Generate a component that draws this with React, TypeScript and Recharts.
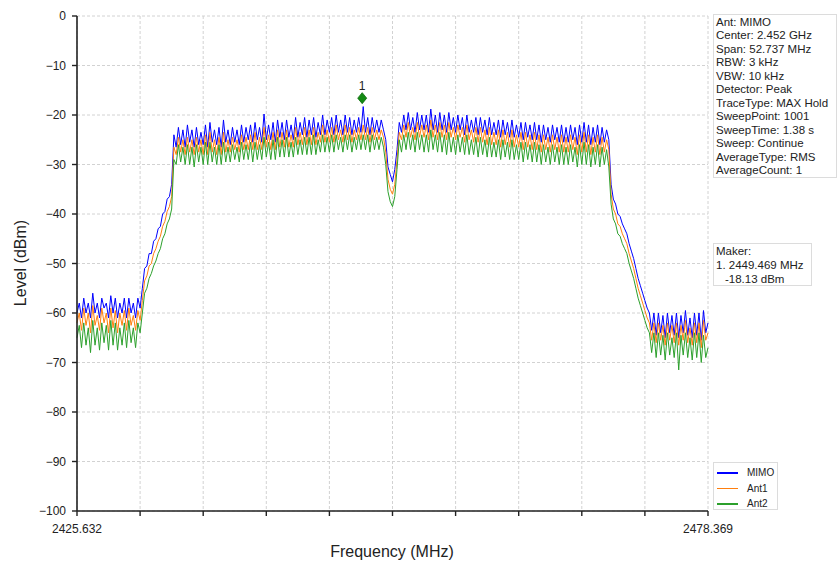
import { CartesianGrid, Legend, Line, LineChart, ReferenceDot, XAxis, YAxis } from "recharts"

const START_MHZ = 2425.632
const STOP_MHZ = 2478.369

const freqTicks = [
  2425.632, 2430.906, 2436.179, 2441.453, 2446.727, 2452.0, 2457.274, 2462.548, 2467.822, 2473.095,
  2478.369,
]
const levelTicks = [0, -10, -20, -30, -40, -50, -60, -70, -80, -90, -100]

// trace values (dBm), evenly spaced over the span
const mimo = [
  -60, -58, -61, -57, -60, -58, -61, -56, -60, -58,
  -61, -57, -59, -58, -61, -56.5, -60, -57, -61, -58,
  -60, -57, -61, -57, -60, -58, -61, -57, -59, -55,
  -51, -50.5, -48, -48, -45.5, -45, -43, -42.5, -40, -39.5,
  -37, -36.5, -34, -24, -26.5, -22.5, -26, -23, -26.5, -22,
  -25.5, -23, -26.5, -22.5, -26, -23.5, -26, -22, -26.5, -21.5,
  -25.5, -23, -26, -22.5, -26.5, -21, -25.5, -23, -26, -22.5,
  -25.5, -23, -26, -22, -25.5, -22.5, -25, -22, -25.5, -21.5,
  -25, -22.5, -25.5, -19.8, -25, -22, -25, -21.5, -25.5, -21,
  -24.5, -21.5, -25, -21, -24.5, -22, -25, -20.5, -24.5, -21.5,
  -24, -20.5, -24.5, -21, -24, -20.5, -24.5, -21.5, -24, -20,
  -24, -21, -23.5, -20.5, -24, -20, -23.5, -21, -24, -20,
  -23.5, -20.5, -24, -21, -23.5, -20.5, -23.5, -18.3, -23.5, -20.5,
  -24, -20.5, -23.5, -21, -23.5, -21, -23, -25, -30.5, -32,
  -33.5, -31, -27, -21.5, -23.5, -20, -23, -19.5, -23, -20.5,
  -23.5, -19.5, -23, -20, -23, -20, -23.5, -18.8, -23, -20,
  -23.5, -19.5, -23, -20, -23.5, -19.5, -23, -20.5, -23.5, -20,
  -23, -20.5, -24, -20, -23.5, -21, -23.5, -20.5, -24, -20.5,
  -23.5, -21, -24, -20.5, -24, -21.5, -24, -21, -24.5, -21,
  -24, -21.5, -24.5, -21, -24.5, -22, -24.5, -21.5, -25, -21.5,
  -24.5, -22, -25, -21.5, -25, -22, -25.5, -22, -25, -22.5,
  -25.5, -22, -25, -22.5, -25.5, -22, -25.5, -22.5, -25.5, -22,
  -25, -22.5, -26, -22, -25.5, -21.5, -25.5, -22, -26, -22.5,
  -25.5, -22, -26, -22.5, -25.5, -23, -25, -34, -37, -38,
  -40, -40.5, -42, -43, -44, -46, -47.5, -49, -51, -53,
  -54.5, -56, -57.5, -59, -60, -63.5, -60, -64.5, -60, -64,
  -60.5, -65, -60, -64, -60.5, -64.5, -60, -65, -60.5, -64,
  -59.5, -64.5, -61, -65, -60, -64.5, -60, -65.5, -59.5, -64,
  -62,
]

const ant1 = [
  -62, -60, -63.5, -59, -62.5, -60, -64, -58.5, -62.5, -60.5,
  -63.5, -59, -62, -60, -64, -59, -63, -59.5, -64, -60,
  -62.5, -59.5, -63.5, -59, -62.5, -60.5, -63.5, -59.5, -61.5, -57.5,
  -53.5, -52.5, -50.5, -50, -48, -47, -45.5, -44.5, -42.5, -41.5,
  -39.5, -38.5, -36.5, -26.5, -28, -24.5, -27.5, -25, -28, -24.5,
  -27.5, -25, -28, -24.5, -27.5, -25, -28, -24, -28, -23.5,
  -27.5, -25, -28, -24.5, -28, -23.5, -27.5, -25, -27.5, -24.5,
  -27, -25, -27.5, -24, -27, -24.5, -27, -24, -27, -23.5,
  -27, -24.5, -27, -22.5, -26.5, -24, -27, -23.5, -27, -23,
  -26.5, -23.5, -26.5, -23, -26.5, -24, -26.5, -22.5, -26, -23.5,
  -26, -22.5, -26, -23, -26, -22.5, -26, -23.5, -25.5, -22,
  -25.5, -23, -25.5, -22.5, -25.5, -22, -25, -23, -25.5, -22,
  -25, -22.5, -25.5, -23, -25, -22.5, -25, -22, -25, -22.5,
  -25.5, -22.5, -25, -23, -25, -23, -24.5, -27.5, -33, -35,
  -36, -34, -29, -23.5, -25, -22, -24.5, -21.5, -24.5, -22.5,
  -25, -21.5, -24.5, -22, -24.5, -22, -25, -21, -24.5, -22,
  -25, -21.5, -24.5, -22, -25, -21.5, -24.5, -22.5, -25, -22,
  -24.5, -22.5, -25.5, -22, -25, -23, -25.5, -22.5, -25.5, -22.5,
  -25.5, -23, -26, -22.5, -26, -23.5, -26, -23, -26.5, -23,
  -26, -23.5, -26.5, -23, -26.5, -24, -26.5, -23.5, -27, -23.5,
  -26.5, -24, -27, -23.5, -27, -24, -27.5, -24, -27, -24.5,
  -27.5, -24, -27, -24.5, -27.5, -24, -27.5, -24.5, -27.5, -24,
  -27, -24.5, -28, -24, -27.5, -23.5, -27.5, -24, -28, -24.5,
  -27.5, -24, -28, -24.5, -27.5, -25, -27, -36, -39, -40,
  -42, -42.5, -44, -45, -46, -48, -49.5, -51, -53, -55,
  -56.5, -58, -59.5, -61, -62, -65.5, -62, -66, -62, -65.5,
  -62.5, -66.5, -62, -65.5, -62.5, -66, -62, -66.5, -62.5, -65.5,
  -61.5, -66, -63, -66.5, -62, -66, -62, -67, -61.5, -65.5,
  -64,
]

const ant2 = [
  -65, -62.5, -67, -62, -66.5, -63, -68, -61.5, -66.5, -63,
  -67.5, -62, -66, -62.5, -67.5, -61.5, -66.5, -62, -67.5, -63,
  -66.5, -62, -67, -61.5, -66, -63, -67, -62, -64, -60,
  -56, -55, -53, -52, -50.5, -49.5, -48, -47, -45, -44,
  -42, -41, -39, -29, -30, -26, -29.5, -26.5, -30, -26,
  -30, -26.5, -30.5, -26, -29.5, -26.5, -30, -25.5, -30, -25.5,
  -29.5, -26.5, -30, -26, -30, -25.5, -29.5, -26.5, -29.5, -26,
  -29, -26.5, -29.5, -25.5, -29, -26, -29, -25.5, -29.5, -25.5,
  -29, -26, -29, -24.5, -28.5, -25.5, -29, -25, -29, -24.5,
  -28.5, -25, -28.5, -24.5, -28.5, -25.5, -28.5, -24.5, -28, -25,
  -28, -24.5, -28, -24.5, -28, -24, -28, -25, -27.5, -24,
  -27.5, -24.5, -27.5, -24, -27.5, -24, -27, -24.5, -27.5, -24,
  -27, -24, -27.5, -24.5, -27, -24, -27, -24, -27, -24,
  -27.5, -24, -27, -24.5, -27, -24.5, -26.5, -30, -35.5, -37.5,
  -38.5, -36.5, -31, -25, -27.5, -24, -27, -23.5, -27, -24,
  -27.5, -23.5, -27, -24, -27.5, -24, -27.5, -23, -27, -24,
  -27.5, -23.5, -27.5, -24, -28, -23.5, -27.5, -24.5, -28, -24,
  -27.5, -24.5, -28, -24, -28, -25, -28, -24.5, -28.5, -24.5,
  -28, -25, -28.5, -24.5, -28.5, -25.5, -28.5, -25, -29, -25,
  -28.5, -25.5, -29, -25, -29, -26, -29, -25.5, -29.5, -25.5,
  -29, -26, -29.5, -25.5, -29.5, -26, -30, -26, -29.5, -26.5,
  -30, -26, -29.5, -26.5, -30, -26, -30, -26.5, -30, -26,
  -29.5, -26.5, -30.5, -26, -30, -25.5, -30, -26, -30.5, -26.5,
  -30, -26, -30.5, -26.5, -30, -27, -30.5, -38, -41, -42,
  -44, -44.5, -46, -47, -48, -50, -51.5, -53, -55, -57,
  -58.5, -60, -61.5, -63, -64, -68, -64, -69, -64, -68.5,
  -64.5, -69.5, -64, -68.5, -65, -69, -64, -71.5, -64.5, -68.5,
  -64, -69, -65, -69.5, -64, -69, -64, -70, -64.5, -69,
  -67,
]

const infoLines = [
  "Ant: MIMO",
  "Center: 2.452 GHz",
  "Span: 52.737 MHz",
  "RBW: 3 kHz",
  "VBW: 10 kHz",
  "Detector: Peak",
  "TraceType: MAX Hold",
  "SweepPoint: 1001",
  "SweepTime: 1.38 s",
  "Sweep: Continue",
  "AverageType: RMS",
  "AverageCount: 1",
]

const markerFreq = 2449.469
const markerLevel = -16.6
const markerLines = ["Maker:", "1. 2449.469 MHz", "-18.13 dBm"]

const series = [
  { key: "mimo", name: "MIMO", color: "#0000ff" },
  { key: "ant1", name: "Ant1", color: "#ff7f0e" },
  { key: "ant2", name: "Ant2", color: "#2ca02c" },
]

const step = (STOP_MHZ - START_MHZ) / (mimo.length - 1)
const data = mimo.map((v, i) => ({
  f: START_MHZ + i * step,
  mimo: v,
  ant1: ant1[i],
  ant2: ant2[i],
}))

const FONT = "'Liberation Sans', Arial, sans-serif"
const minus = (v: number) => (v < 0 ? "\u2212" + Math.abs(v) : String(v))

const Diamond = (props: any) => {
  const { cx, cy } = props
  return (
    <path
      d={`M${cx},${cy - 5.5} L${cx + 4.5},${cy} L${cx},${cy + 5.5} L${cx - 4.5},${cy} Z`}
      fill="#138a13"
      stroke="#0d6b0d"
      strokeWidth={0.8}
    />
  )
}

function LegendBox() {
  return (
    <div
      style={{
        position: "relative",
        border: "1px solid #dcdcdc",
        boxSizing: "border-box",
        background: "#fff",
        width: 65,
        height: 48,
        fontFamily: FONT,
        fontSize: 10,
        color: "#222",
      }}
    >
      {series.map((s, i) => (
        <div key={s.key} style={{ position: "absolute", left: 0, top: 2 + i * 15.5, width: 63, height: 15 }}>
          <div style={{ position: "absolute", left: 3, top: 7, width: 21, height: 1.6, background: s.color }} />
          <div style={{ position: "absolute", left: 33, top: 1, lineHeight: "13px", whiteSpace: "nowrap" }}>{s.name}</div>
        </div>
      ))}
    </div>
  )
}

export default function App() {
  return (
    <div style={{ position: "absolute", left: 0, top: 0, width: 839, height: 562, background: "#fff", fontFamily: FONT }}>
      <LineChart width={839} height={562} data={data} margin={{ top: 16, right: 131, left: 17, bottom: 21 }}>
        <CartesianGrid stroke="#d2d2d2" strokeDasharray="3 2" />
        <XAxis
          dataKey="f"
          type="number"
          domain={[START_MHZ, STOP_MHZ]}
          ticks={freqTicks}
          interval={0}
          height={30}
          tickSize={5}
          tickMargin={8}
          tickFormatter={(v: number, i: number) => (i === 0 || i === freqTicks.length - 1 ? v.toFixed(3) : "")}
          tick={{ fill: "#222", fontSize: 12, fontFamily: FONT }}
          axisLine={{ stroke: "#222", strokeWidth: 1.6 }}
          tickLine={{ stroke: "#222", strokeWidth: 1.4 }}
        />
        <XAxis
          xAxisId="top"
          orientation="top"
          type="number"
          domain={[START_MHZ, STOP_MHZ]}
          height={0}
          tick={false}
          tickLine={false}
          axisLine={{ stroke: "#444", strokeWidth: 1.6 }}
        />
        <YAxis
          type="number"
          domain={[-100, 0]}
          ticks={levelTicks}
          interval={0}
          width={60}
          tickSize={5}
          tickMargin={6}
          tickFormatter={minus}
          tick={{ fill: "#222", fontSize: 12, fontFamily: FONT }}
          axisLine={{ stroke: "#222", strokeWidth: 1.6 }}
          tickLine={{ stroke: "#222", strokeWidth: 1.4 }}
        />
        <YAxis
          yAxisId="right"
          orientation="right"
          type="number"
          domain={[-100, 0]}
          width={0}
          tick={false}
          tickLine={false}
          axisLine={{ stroke: "#444", strokeWidth: 1.6 }}
        />
        {series.map((s) => (
          <Line
            key={s.key}
            type="linear"
            dataKey={s.key}
            name={s.name}
            stroke={s.color}
            strokeWidth={1}
            dot={false}
            activeDot={false}
            isAnimationActive={false}
          />
        ))}
        <ReferenceDot
          x={markerFreq}
          y={markerLevel}
          r={5}
          ifOverflow="visible"
          shape={Diamond}
          label={{ value: "1", position: "top", offset: 3, fill: "#222", fontSize: 12, fontFamily: FONT }}
        />
        <Legend
          layout="vertical"
          align="center"
          verticalAlign="middle"
          content={() => <LegendBox />}
          wrapperStyle={{ position: "absolute", left: 713, top: 462, width: 65, height: 48 }}
        />
        <text x={20} y={263} transform="rotate(-90 20 263)" textAnchor="middle" dominantBaseline="central" fontSize={16} fontFamily={FONT} fill="#222">
          Level (dBm)
        </text>
        <text x={392} y={551} textAnchor="middle" dominantBaseline="central" fontSize={16} fontFamily={FONT} fill="#222">
          Frequency (MHz)
        </text>
      </LineChart>
      <div
        style={{
          position: "absolute",
          left: 713,
          top: 14,
          width: 124,
          height: 164,
          border: "1px solid #dcdcdc",
          boxSizing: "border-box",
          padding: "1px 0 0 2px",
          fontSize: 11.5,
          lineHeight: "13.45px",
          color: "#222",
          whiteSpace: "nowrap",
        }}
      >
        {infoLines.map((t) => (
          <div key={t}>{t}</div>
        ))}
      </div>
      <div
        style={{
          position: "absolute",
          left: 713,
          top: 243,
          width: 99,
          height: 43,
          border: "1px solid #dcdcdc",
          boxSizing: "border-box",
          padding: "0 0 0 2px",
          fontSize: 11.5,
          lineHeight: "14px",
          color: "#222",
          whiteSpace: "nowrap",
        }}
      >
        {markerLines.map((t, i) => (
          <div key={t} style={{ paddingLeft: i === 2 ? 9 : 0 }}>
            {t}
          </div>
        ))}
      </div>
    </div>
  )
}
